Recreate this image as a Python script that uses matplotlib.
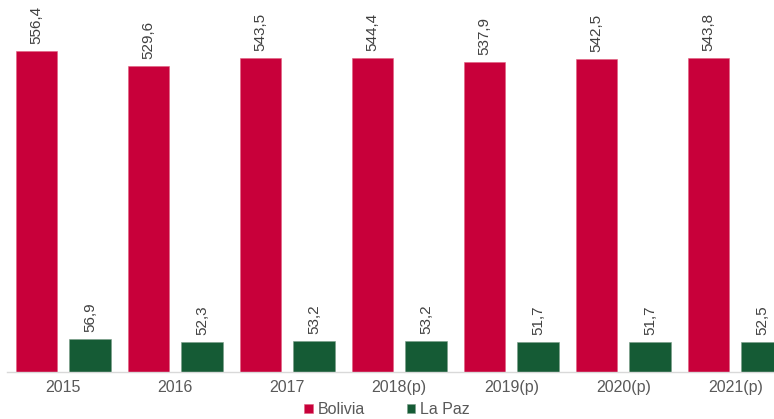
import matplotlib
matplotlib.use("Agg")
import matplotlib.pyplot as plt
import numpy as np

plt.rcParams['font.family'] = ['Liberation Sans', 'DejaVu Sans']

years = ["2015", "2016", "2017", "2018(p)", "2019(p)", "2020(p)", "2021(p)"]
bolivia = [556.4, 529.6, 543.5, 544.4, 537.9, 542.5, 543.8]
la_paz = [56.9, 52.3, 53.2, 53.2, 51.7, 51.7, 52.5]

c_bol = "#C8003A"
c_lpz = "#155B35"
txt = "#595959"

fig = plt.figure(figsize=(7.74, 4.19), dpi=100)
ax = fig.add_axes([7.3 / 774, 47 / 419, 784 / 774, 372 / 419])

x = np.arange(len(years))
off, w = 0.24, 0.37
ax.bar(x - off, bolivia, w, color=c_bol, edgecolor="#e0607f", linewidth=0.4, label="Bolivia")
ax.bar(x + off, la_paz, w, color=c_lpz, edgecolor="#7a9c88", linewidth=0.4, label="La Paz")

def fmt(v):
    return f"{v:.1f}".replace(".", ",")

for xi, v in zip(x - off, bolivia):
    ax.annotate(fmt(v), (xi, v), xytext=(0, 5), textcoords="offset points",
                rotation=90, ha="center", va="bottom", fontsize=11, color="#404040")
for xi, v in zip(x + off, la_paz):
    ax.annotate(fmt(v), (xi, v), xytext=(0, 5), textcoords="offset points",
                rotation=90, ha="center", va="bottom", fontsize=11, color="#404040")

ax.set_xlim(-0.5, len(years) - 0.5)
ax.set_ylim(0, 644.7)
ax.set_xticks(x)
ax.set_xticklabels(years, fontsize=11.5, color=txt)
ax.tick_params(axis="x", length=0, pad=6)
ax.set_yticks([])
for s in ["top", "right", "left"]:
    ax.spines[s].set_visible(False)
ax.spines["bottom"].set_color("#d9d9d9")
ax.spines["bottom"].set_linewidth(1.0)

leg = fig.legend(loc="lower center", bbox_to_anchor=(0.5, -0.03), ncol=2, frameon=False,
                 fontsize=11.5, handlelength=0.55, handleheight=0.55, handletextpad=0.3,
                 columnspacing=2.6)
for t in leg.get_texts():
    t.set_color(txt)

fig.savefig("out.png", dpi=100)
